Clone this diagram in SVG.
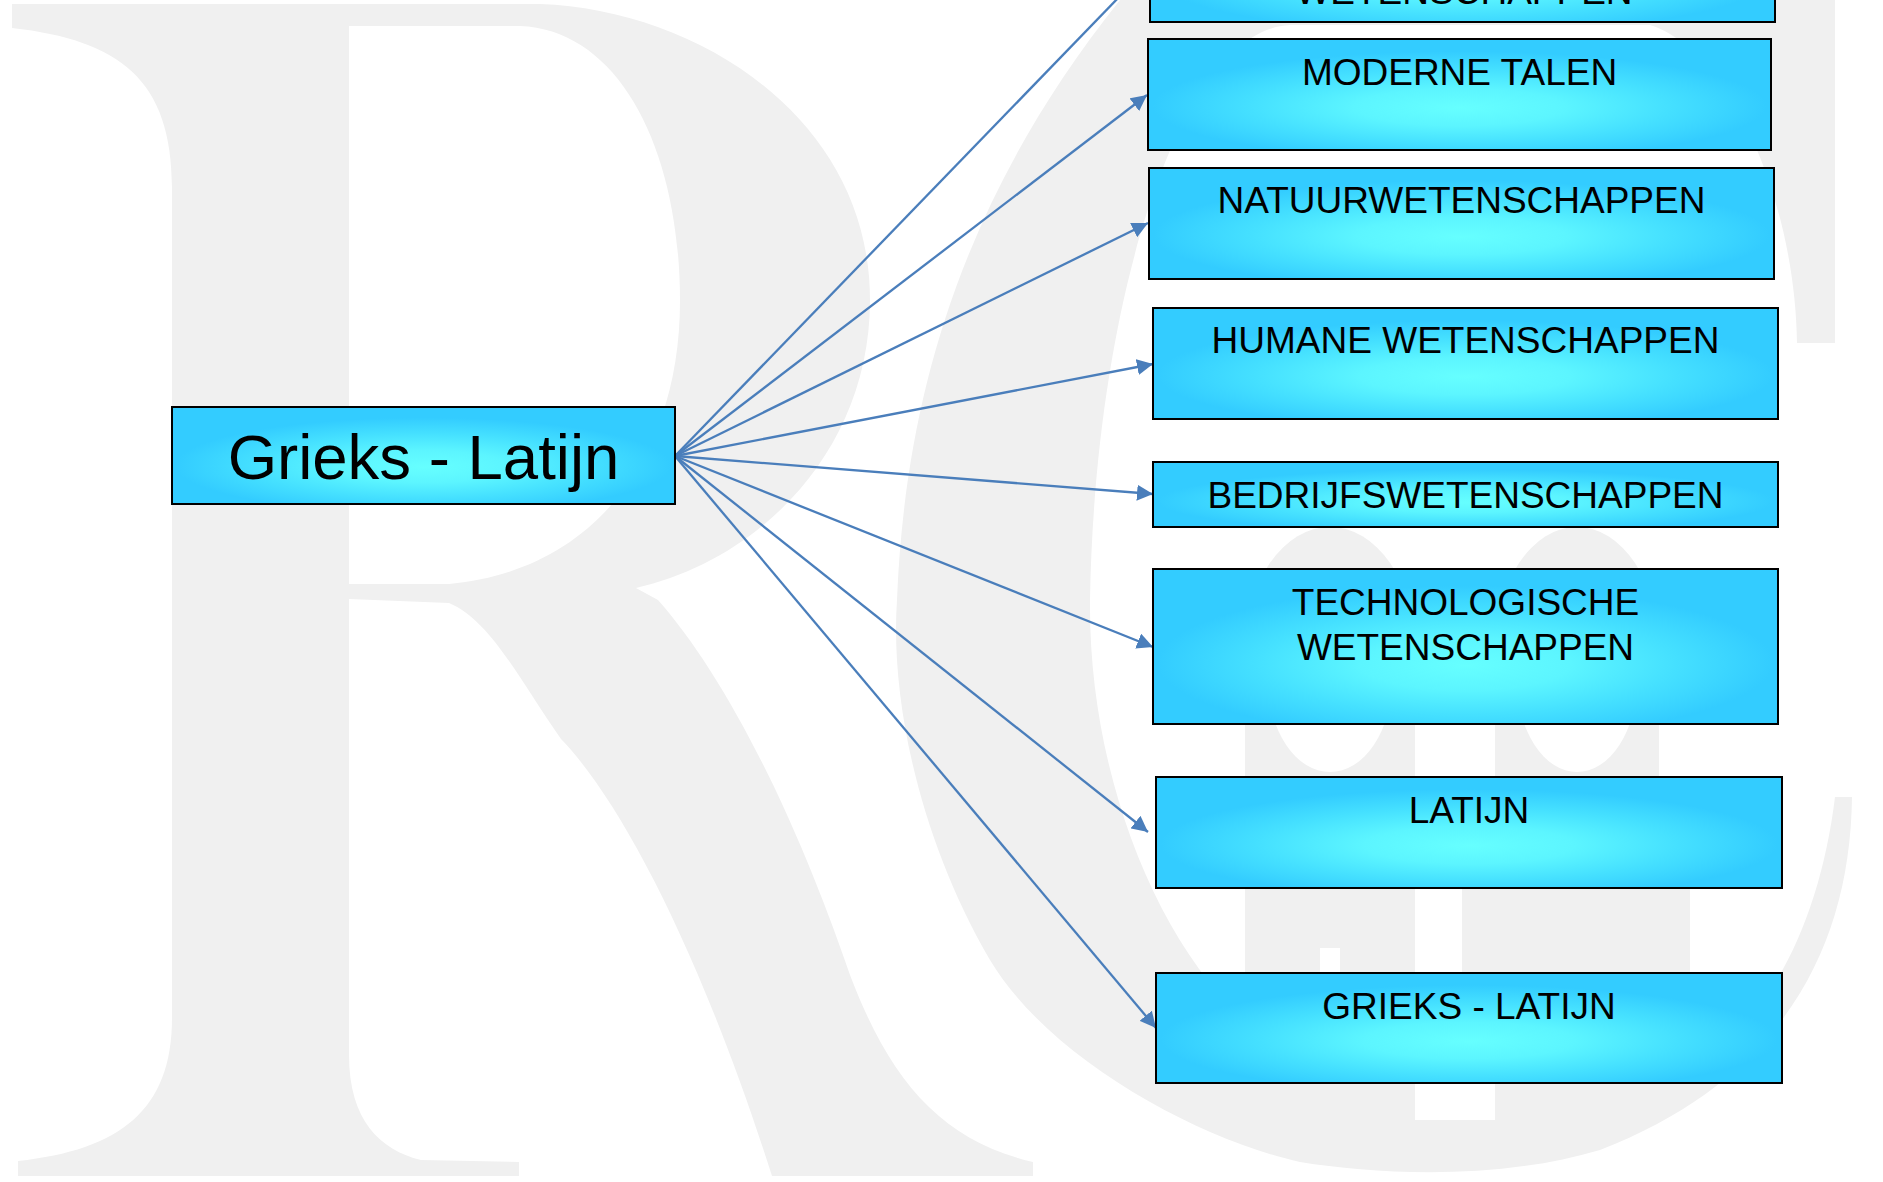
<svg xmlns="http://www.w3.org/2000/svg" width="1883" height="1182" viewBox="0 0 1883 1182">
<style>
.box{stroke:#000;stroke-width:2;fill:url(#glow)}
.lbl{font-family:"Liberation Sans",Arial,sans-serif;font-size:37px;fill:#000;text-anchor:middle}
.main{font-size:63.5px}
.wm{fill:#f0f0f0}
.wh{fill:#fff}
.conn{stroke:#4a7ebb;stroke-width:2.3;fill:none;marker-end:url(#arr)}
</style>
<defs>
<radialGradient id="glow" cx="0.5" cy="0.6" r="0.56" fx="0.5" fy="0.62">
<stop offset="0" stop-color="#66ffff"/>
<stop offset="0.3" stop-color="#5cf5ff"/>
<stop offset="0.6" stop-color="#45e0ff"/>
<stop offset="0.88" stop-color="#33ccff"/>
<stop offset="1" stop-color="#33ccff"/>
</radialGradient>
<marker id="arr" markerUnits="userSpaceOnUse" markerWidth="16" markerHeight="16" refX="16" refY="8" orient="auto">
<path d="M0,0 L16,8 L0,16 z" fill="#4a7ebb"/>
</marker>
</defs>
<rect x="0" y="0" width="1883" height="1182" fill="#fff"/>
<g id="watermark">
<path class="wm" fill-rule="evenodd" d="M12 4 L540 4 C700 10 870 120 870 300 C870 450 760 560 636 588 L658 600 C720 670 790 800 850 975 C890 1080 940 1140 1033 1162 L1033 1176 L772 1176 C700 950 620 800 561 739 C520 680 490 620 449 603 L349 599 L349 1055 C349 1120 380 1150 421 1160 L519 1162 L519 1176 L18 1176 L18 1161 C120 1150 172 1110 172 1018 L172 188 C172 80 120 40 12 28 Z M349 26 L520 26 C620 30 680 150 680 301 C680 450 600 570 449 584 L349 584 Z"/>
<path class="wm" d="M1120 0 L1835 0 L1835 343 L1797 343 C1795 200 1730 50 1650 25 L1290 25 C1180 30 1095 300 1090 600 C1088 800 1180 1000 1300 1060 C1400 1100 1600 1100 1700 1060 C1770 1020 1820 920 1835 797 L1852 797 C1850 950 1780 1080 1600 1150 C1500 1180 1380 1175 1300 1162 C1200 1140 1050 1060 990 960 C920 840 890 700 897 600 C905 400 960 200 1120 0 Z"/>
<ellipse class="wm" cx="1330" cy="650" rx="85" ry="123"/>
<ellipse class="wm" cx="1577" cy="650" rx="82" ry="123"/>
<rect class="wm" x="1245" y="650" width="170" height="450"/>
<rect class="wm" x="1495" y="650" width="164" height="150"/>
<rect class="wm" x="1462" y="790" width="228" height="310"/>
<ellipse class="wh" cx="1330" cy="680" rx="62" ry="92"/>
<ellipse class="wh" cx="1577" cy="680" rx="60" ry="92"/>
<rect class="wh" x="1415" y="770" width="47" height="350"/>
<rect class="wh" x="1415" y="1083" width="80" height="37"/>
<rect class="wh" x="1320" y="948" width="20" height="30"/>
</g>
<g id="connectors">
<line class="conn" x1="675" y1="456" x2="1150" y2="-35"/>
<line class="conn" x1="675" y1="456" x2="1147" y2="95"/>
<line class="conn" x1="675" y1="456" x2="1148" y2="223"/>
<line class="conn" x1="675" y1="456" x2="1153" y2="364"/>
<line class="conn" x1="675" y1="456" x2="1153" y2="494"/>
<line class="conn" x1="675" y1="456" x2="1153" y2="647"/>
<line class="conn" x1="675" y1="456" x2="1148" y2="832"/>
<line class="conn" x1="675" y1="456" x2="1156" y2="1028"/>
</g>
<g id="node-main">
<rect class="box" x="172" y="407" width="503" height="97"/>
<text class="lbl main" x="423.5" y="479">Grieks - Latijn</text>
</g>
<g id="node-top">
<rect class="box" x="1150" y="-92" width="625" height="114"/>
<text class="lbl" x="1464" y="4">WETENSCHAPPEN</text>
</g>
<g id="node-moderne-talen">
<rect class="box" x="1148" y="39" width="623" height="111"/>
<text class="lbl" x="1459.5" y="85">MODERNE TALEN</text>
</g>
<g id="node-natuurwetenschappen">
<rect class="box" x="1149" y="168" width="625" height="111"/>
<text class="lbl" x="1461.5" y="213">NATUURWETENSCHAPPEN</text>
</g>
<g id="node-humane-wetenschappen">
<rect class="box" x="1153" y="308" width="625" height="111"/>
<text class="lbl" x="1465.5" y="353">HUMANE WETENSCHAPPEN</text>
</g>
<g id="node-bedrijfswetenschappen">
<rect class="box" x="1153" y="462" width="625" height="65"/>
<text class="lbl" x="1465.5" y="508">BEDRIJFSWETENSCHAPPEN</text>
</g>
<g id="node-technologische-wetenschappen">
<rect class="box" x="1153" y="569" width="625" height="155"/>
<text class="lbl" x="1465.5" y="615">TECHNOLOGISCHE</text>
<text class="lbl" x="1465.5" y="660">WETENSCHAPPEN</text>
</g>
<g id="node-latijn">
<rect class="box" x="1156" y="777" width="626" height="111"/>
<text class="lbl" x="1469" y="823">LATIJN</text>
</g>
<g id="node-grieks-latijn">
<rect class="box" x="1156" y="973" width="626" height="110"/>
<text class="lbl" x="1469" y="1019">GRIEKS - LATIJN</text>
</g>
</svg>
